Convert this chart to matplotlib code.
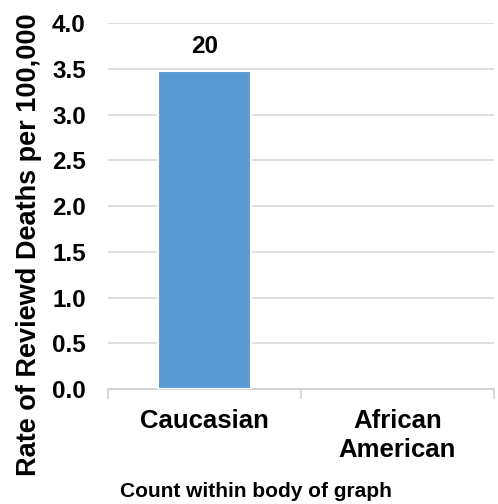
import numpy as np
import matplotlib.pyplot as plt

# Data
categories = ['Caucasian', 'African\nAmerican']
rates = [3.48, 0.0]
counts = ['20', '']

plt.rcParams['font.family'] = ['Liberation Sans', 'DejaVu Sans']
plt.rcParams['font.weight'] = 'bold'

fig = plt.figure(figsize=(4.98, 5.04), dpi=100)
ax = fig.add_axes([0.217, 0.228, 0.775, 0.726])

x = np.arange(len(categories))
bars = ax.bar(x, rates, width=0.48, color='#5b9bd5', edgecolor='white',
              linewidth=[1.5 if r > 0 else 0 for r in rates], zorder=3)

# count labels above bars
for b, c in zip(bars, counts):
    if c:
        ax.annotate(c, (b.get_x() + b.get_width() / 2, b.get_height()),
                    xytext=(0, 9), textcoords='offset points',
                    ha='center', va='bottom', fontsize=17.5, fontweight='bold')

ax.set_xlim(-0.5, 1.5)
ax.set_ylim(0, 4.0)
ax.set_yticks(np.arange(0, 4.01, 0.5))
ax.set_yticklabels([f'{v:.1f}' for v in np.arange(0, 4.01, 0.5)], fontsize=17.5)
ax.set_xticks(x)
ax.set_xticklabels(categories, fontsize=18.5, linespacing=1.3)
ax.set_xticks([-0.5, 0.5, 1.5], minor=True)
ax.tick_params(axis='x', which='major', length=0, pad=14)
ax.tick_params(axis='x', which='minor', length=7, color='#d0d0d0', width=1.2)
ax.tick_params(axis='y', length=0, pad=16)

ax.yaxis.grid(True, color='#d9d9d9', linewidth=1.2, zorder=0)
ax.set_axisbelow(True)
for s in ['left', 'right', 'top']:
    ax.spines[s].set_visible(False)
ax.spines['bottom'].set_color('#d0d0d0')
ax.spines['bottom'].set_linewidth(1.2)

ax.set_ylabel('Rate of Reviewd Deaths per 100,000', fontsize=19.5, fontweight='bold')
ax.yaxis.set_label_coords(-0.171, 0.396)

fig.text(0.241, 0.024, 'Count within body of graph', fontsize=15, fontweight='bold',
         ha='left', va='center')

fig.savefig('out.png', dpi=100)
